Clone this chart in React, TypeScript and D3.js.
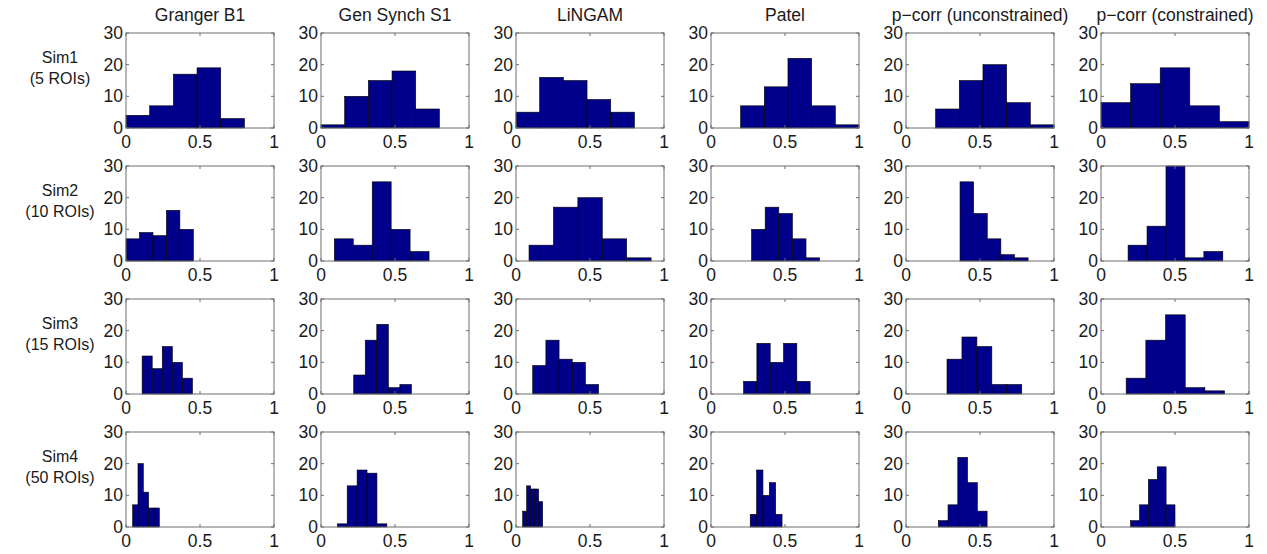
import React from "react";
import * as d3 from "d3";

const methods = ["Granger B1", "Gen Synch S1", "LiNGAM", "Patel", "p\u2212corr (unconstrained)", "p\u2212corr (constrained)"];
const simNames = ["Sim1", "Sim2", "Sim3", "Sim4"];
const simRois = ["(5 ROIs)", "(10 ROIs)", "(15 ROIs)", "(50 ROIs)"];
const xTicks = [0, 0.5, 1];
const xTickLabels = ["0", "0.5", "1"];
const yTicks = [0, 10, 20, 30];

// first bin edge and bin width for every panel [sim][method]
const binStarts = [
  [0, 0, 0, 0.2, 0.2, 0],
  [0, 0.09, 0.088, 0.274, 0.365, 0.183],
  [0.109, 0.221, 0.113, 0.22, 0.277, 0.17],
  [0.045, 0.11, 0.045, 0.265, 0.218, 0.2],
];
const binWidths = [
  [0.16, 0.16, 0.16, 0.16, 0.16, 0.2],
  [0.091, 0.128, 0.165, 0.092, 0.092, 0.128],
  [0.068, 0.078, 0.089, 0.09, 0.101, 0.133],
  [0.036, 0.067, 0.027, 0.043, 0.066, 0.06],
];

const sim1Counts = [
  [4, 7, 17, 19, 3],
  [1, 10, 15, 18, 6],
  [5, 16, 15, 9, 5],
  [7, 13, 22, 7, 1],
  [6, 15, 20, 8, 1],
  [8, 14, 19, 7, 2],
];
const sim2Counts = [
  [7, 9, 8, 16, 10],
  [7, 5, 25, 10, 3],
  [5, 17, 20, 7, 1],
  [10, 17, 15, 7, 1],
  [25, 15, 7, 2, 1],
  [5, 11, 30, 1, 3],
];
const sim3Counts = [
  [12, 8, 15, 10, 5],
  [6, 17, 22, 2, 3],
  [9, 17, 11, 10, 3],
  [4, 16, 10, 16, 4],
  [11, 18, 15, 3, 3],
  [5, 17, 25, 2, 1],
];
const sim4Counts = [
  [7, 20, 11, 6, 6],
  [1, 13, 18, 17, 1],
  [5, 13, 12, 12, 8],
  [4, 18, 10, 14, 4],
  [2, 7, 22, 14, 5],
  [2, 7, 15, 19, 7],
];
const allCounts = [sim1Counts, sim2Counts, sim3Counts, sim4Counts];

const W = 1267;
const H = 554;
const axLeft0 = 126;
const colStep = 195;
const axW = 148;
const axTop0 = 33;
const rowStep = 133;
const axH = 95;
const font = "Liberation Sans, Arial, sans-serif";
const barFill = "#00008b";
const frame = "#6e6e6e";
const textCol = "#1a1a1a";

function Panel({ r, c }: { r: number; c: number }) {
  const left = axLeft0 + c * colStep;
  const top = axTop0 + r * rowStep;
  const x = d3.scaleLinear().domain([0, 1]).range([left, left + axW]);
  const y = d3.scaleLinear().domain([0, 30]).range([top + axH, top]);
  const counts = allCounts[r][c];
  const start = binStarts[r][c];
  const w = binWidths[r][c];
  const tl = 3;
  return (
    <g>
      <rect x={left} y={top} width={axW} height={axH} fill="#fff" />
      {counts.map((v, i) => {
        const x0 = x(start + i * w);
        const x1 = x(start + (i + 1) * w);
        const yv = y(Math.min(v, 30));
        return (
          <rect key={i} x={x0} y={yv} width={x1 - x0} height={y(0) - yv} fill={barFill} stroke="#000" strokeWidth={0.6} />
        );
      })}
      <rect x={left} y={top} width={axW} height={axH} fill="none" stroke={frame} strokeWidth={1} />
      {xTicks.map((t, i) => (
        <g key={"x" + i}>
          <line x1={x(t)} x2={x(t)} y1={y(0)} y2={y(0) - tl} stroke={frame} />
          <line x1={x(t)} x2={x(t)} y1={y(30)} y2={y(30) + tl} stroke={frame} />
          <text x={x(t)} y={top + axH + 20} textAnchor="middle" fontSize={17.5} fontFamily={font} fill={textCol}>
            {xTickLabels[i]}
          </text>
        </g>
      ))}
      {yTicks.map((t, i) => (
        <g key={"y" + i}>
          <line x1={x(0)} x2={x(0) + tl} y1={y(t)} y2={y(t)} stroke={frame} />
          <line x1={x(1)} x2={x(1) - tl} y1={y(t)} y2={y(t)} stroke={frame} />
          <text x={left - 3} y={y(t) + 6} textAnchor="end" fontSize={17.5} fontFamily={font} fill={textCol}>
            {t}
          </text>
        </g>
      ))}
      {r === 0 && (
        <text x={left + axW / 2} y={21} textAnchor="middle" fontSize={17.5} fontFamily={font} fill={textCol}>
          {methods[c]}
        </text>
      )}
    </g>
  );
}

export default function App() {
  return (
    <svg width={W} height={H} style={{ position: "absolute", left: 0, top: 0, background: "#fff" }}>
      <rect x={0} y={0} width={W} height={H} fill="#fff" />
      {simNames.map((s, r) => (
        <g key={s}>
          <text x={60} y={axTop0 + r * rowStep + 30} textAnchor="middle" fontSize={16} fontFamily={font} fill={textCol}>
            {s}
          </text>
          <text x={60} y={axTop0 + r * rowStep + 51} textAnchor="middle" fontSize={16} fontFamily={font} fill={textCol}>
            {simRois[r]}
          </text>
        </g>
      ))}
      {simNames.map((_, r) => methods.map((__, c) => <Panel key={r + "-" + c} r={r} c={c} />))}
    </svg>
  );
}
